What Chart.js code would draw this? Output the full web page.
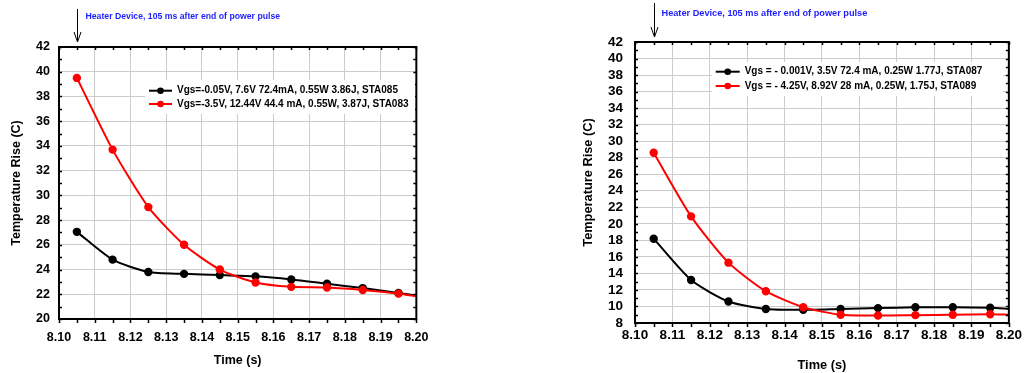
<!DOCTYPE html>
<html>
<head>
<meta charset="utf-8">
<script src="https://cdn.jsdelivr.net/npm/chart.js@4/dist/chart.umd.min.js"></script>
<style>
  html, body { margin: 0; padding: 0; background: #fff; }
  #wrap { position: relative; width: 1026px; height: 373px; overflow: hidden; }
  .box { position: absolute; top: 0; height: 373px; }
  #left { left: 0; width: 440px; }
  #right { left: 560px; width: 466px; }
</style>
</head>
<body>
<div id="wrap">
  <div class="box" id="left"><canvas id="chartA"></canvas></div>
  <div class="box" id="right"><canvas id="chartB"></canvas></div>
</div>
<script>
// time of each reading (last one is where the curve meets the axis edge)
const times = [8.105, 8.115, 8.125, 8.135, 8.145, 8.155, 8.165, 8.175, 8.185, 8.195, 8.20];
const xTickVals = [8.10, 8.11, 8.12, 8.13, 8.14, 8.15, 8.16, 8.17, 8.18, 8.19, 8.20];

// left panel
const sta085 = [27.05, 24.8, 23.8, 23.65, 23.55, 23.45, 23.2, 22.85, 22.5, 22.1, 21.9];
const sta083 = [39.5, 33.7, 29.05, 26.0, 24.0, 22.95, 22.6, 22.55, 22.35, 22.05, 21.85];
const yTicksA = [20, 22, 24, 26, 28, 30, 32, 34, 36, 38, 40, 42];
const labelsA = ['Vgs=-0.05V, 7.6V 72.4mA, 0.55W 3.86J, STA085',
                 'Vgs=-3.5V, 12.44V 44.4 mA, 0.55W, 3.87J, STA083'];

// right panel
const sta087 = [18.2, 13.2, 10.6, 9.7, 9.6, 9.7, 9.8, 9.9, 9.9, 9.85, 9.7];
const sta089 = [28.6, 20.9, 15.3, 11.85, 9.9, 9.0, 8.9, 8.95, 9.0, 9.05, 9.0];
const yTicksB = [8, 10, 12, 14, 16, 18, 20, 22, 24, 26, 28, 30, 32, 34, 36, 38, 40, 42];
const labelsB = ['Vgs = - 0.001V, 3.5V 72.4 mA, 0.25W 1.77J, STA087',
                 'Vgs = - 4.25V, 8.92V 28 mA, 0.25W, 1.75J, STA089'];

const noteText = 'Heater Device, 105 ms after end of power pulse';
const noteAt = 8.105;

const FONT = '"Liberation Sans", Arial, sans-serif';

// frame + little tick marks round the plot
const framePlugin = {
  id: 'frame',
  afterDatasetsDraw(chart) {
    const { ctx, chartArea: a, scales: { x, y } } = chart;
    ctx.save();
    ctx.strokeStyle = '#000';
    ctx.lineWidth = 1.5;
    ctx.beginPath();
    for (let v = x.min; v <= x.max + 1e-9; v += 0.005) {
      const px = Math.round(x.getPixelForValue(v)) + 0.5;
      ctx.moveTo(px, a.bottom); ctx.lineTo(px, a.bottom + 4);
      ctx.moveTo(px, a.top); ctx.lineTo(px, a.top + 3);
    }
    for (let v = y.min; v <= y.max; v += 1) {
      const py = Math.round(y.getPixelForValue(v)) + 0.5;
      ctx.moveTo(a.left, py); ctx.lineTo(a.left + 3, py);
      ctx.moveTo(a.right, py); ctx.lineTo(a.right - 3, py);
    }
    ctx.stroke();
    ctx.lineWidth = 2;
    ctx.strokeRect(a.left, a.top, a.right - a.left, a.bottom - a.top);
    ctx.restore();
  }
};

// legend box inside the plot
const boxLegend = {
  id: 'boxLegend',
  afterDatasetsDraw(chart, args, o) {
    const ctx = chart.ctx;
    ctx.save();
    ctx.fillStyle = '#fff';
    ctx.fillRect(o.box[0], o.box[1], o.box[2], o.box[3]);
    ctx.font = 'bold ' + o.size + 'px ' + FONT;
    ctx.textBaseline = 'middle';
    chart.data.datasets.forEach((ds, i) => {
      const ry = o.y + i * o.gap;
      ctx.strokeStyle = ds.borderColor;
      ctx.lineWidth = 2;
      ctx.beginPath();
      ctx.moveTo(o.x, ry); ctx.lineTo(o.x + o.len, ry);
      ctx.stroke();
      ctx.fillStyle = ds.borderColor;
      ctx.beginPath();
      ctx.arc(o.x + o.len / 2, ry, 3.3, 0, Math.PI * 2);
      ctx.fill();
      ctx.fillStyle = '#000';
      ctx.fillText(ds.label, o.x + o.len + 5, ry);
    });
    ctx.restore();
  }
};

// arrow and blue note above the plot
const notePlugin = {
  id: 'note',
  afterDraw(chart, args, o) {
    const { ctx, scales: { x } } = chart;
    const px = Math.round(x.getPixelForValue(noteAt)) + 0.5;
    ctx.save();
    ctx.strokeStyle = '#000';
    ctx.lineWidth = 1;
    ctx.beginPath();
    ctx.moveTo(px, o.y0); ctx.lineTo(px, o.y1);
    ctx.moveTo(px - 3.5, o.y1 - 10); ctx.lineTo(px, o.y1); ctx.lineTo(px + 3.5, o.y1 - 10);
    ctx.stroke();
    ctx.fillStyle = '#1e1eff';
    ctx.font = 'bold ' + o.size + 'px ' + FONT;
    ctx.textBaseline = 'middle';
    ctx.fillText(noteText, px + o.dx, o.ty);
    ctx.restore();
  }
};

function series(label, vals, color, order) {
  return {
    label: label,
    data: times.map((t, i) => ({ x: t, y: vals[i] })),
    borderColor: color,
    backgroundColor: color,
    pointBackgroundColor: color,
    pointBorderColor: color,
    borderWidth: 2,
    pointRadius: times.map((t, i) => i === times.length - 1 ? 0 : 3.2),
    pointHoverRadius: 0,
    tension: 0.22,
    order: order
  };
}

function makeChart(id, g) {
  return new Chart(document.getElementById(id), {
    type: 'line',
    data: {
      datasets: [
        series(g.labels[0], g.black, '#000000', 1),
        series(g.labels[1], g.red, '#ff0000', 0)
      ]
    },
    plugins: [framePlugin, boxLegend, notePlugin],
    options: {
      responsive: true,
      maintainAspectRatio: false,
      animation: false,
      events: [],
      layout: { autoPadding: false, padding: { left: 0, top: g.top, right: g.right, bottom: 0 } },
      plugins: {
        legend: { display: false },
        tooltip: { enabled: false },
        boxLegend: g.legend,
        note: g.note
      },
      scales: {
        x: {
          type: 'linear',
          min: 8.10,
          max: 8.20,
          afterBuildTicks: s => { s.ticks = xTickVals.map(v => ({ value: v })); },
          afterFit: s => { s.height = g.xH; },
          grid: { color: '#cccccc', drawTicks: false },
          border: { display: false },
          ticks: {
            padding: g.xPad,
            color: '#000',
            maxRotation: 0,
            autoSkip: false,
            font: { family: FONT, weight: 'bold', size: g.tick },
            callback: v => Number(v).toFixed(2)
          },
          title: {
            display: true, text: 'Time (s)', color: '#000',
            padding: { top: 0, bottom: g.xTitlePad },
            font: { family: FONT, weight: 'bold', size: g.title }
          }
        },
        y: {
          min: g.yTicks[0],
          max: g.yTicks[g.yTicks.length - 1],
          afterBuildTicks: s => { s.ticks = g.yTicks.map(v => ({ value: v })); },
          afterFit: s => { s.width = g.yW; },
          grid: { color: '#cccccc', drawTicks: false },
          border: { display: false },
          ticks: {
            padding: g.yPad,
            color: '#000',
            autoSkip: false,
            font: { family: FONT, weight: 'bold', size: g.tick }
          },
          title: {
            display: true, text: 'Temperature Rise (C)', color: '#000',
            padding: { top: g.yTitlePad, bottom: 0 },
            font: { family: FONT, weight: 'bold', size: g.title }
          }
        }
      }
    }
  });
}

makeChart('chartA', {
  black: sta085, red: sta083, labels: labelsA, yTicks: yTicksA,
  top: 47, right: 17, yW: 59, xH: 54,
  tick: 12.5, title: 12.5, xPad: 11.5, yPad: 9, xTitlePad: 5, yTitlePad: 9,
  legend: { box: [145, 80, 270, 34], x: 149, y: 90.7, gap: 13.3, len: 23, size: 10 },
  note: { y0: 9, y1: 42, dx: 8, ty: 17, size: 8.7 }
});

makeChart('chartB', {
  black: sta087, red: sta089, labels: labelsB, yTicks: yTicksB,
  top: 42, right: 13, yW: 75, xH: 50,
  tick: 13.5, title: 12.8, xPad: 4, yPad: 12, xTitlePad: 0, yTitlePad: 21,
  legend: { box: [152, 62, 291, 34], x: 155.7, y: 71.7, gap: 14.3, len: 24, size: 10 },
  note: { y0: 3, y1: 37, dx: 7, ty: 13, size: 9.2 }
});
</script>
</body>
</html>
